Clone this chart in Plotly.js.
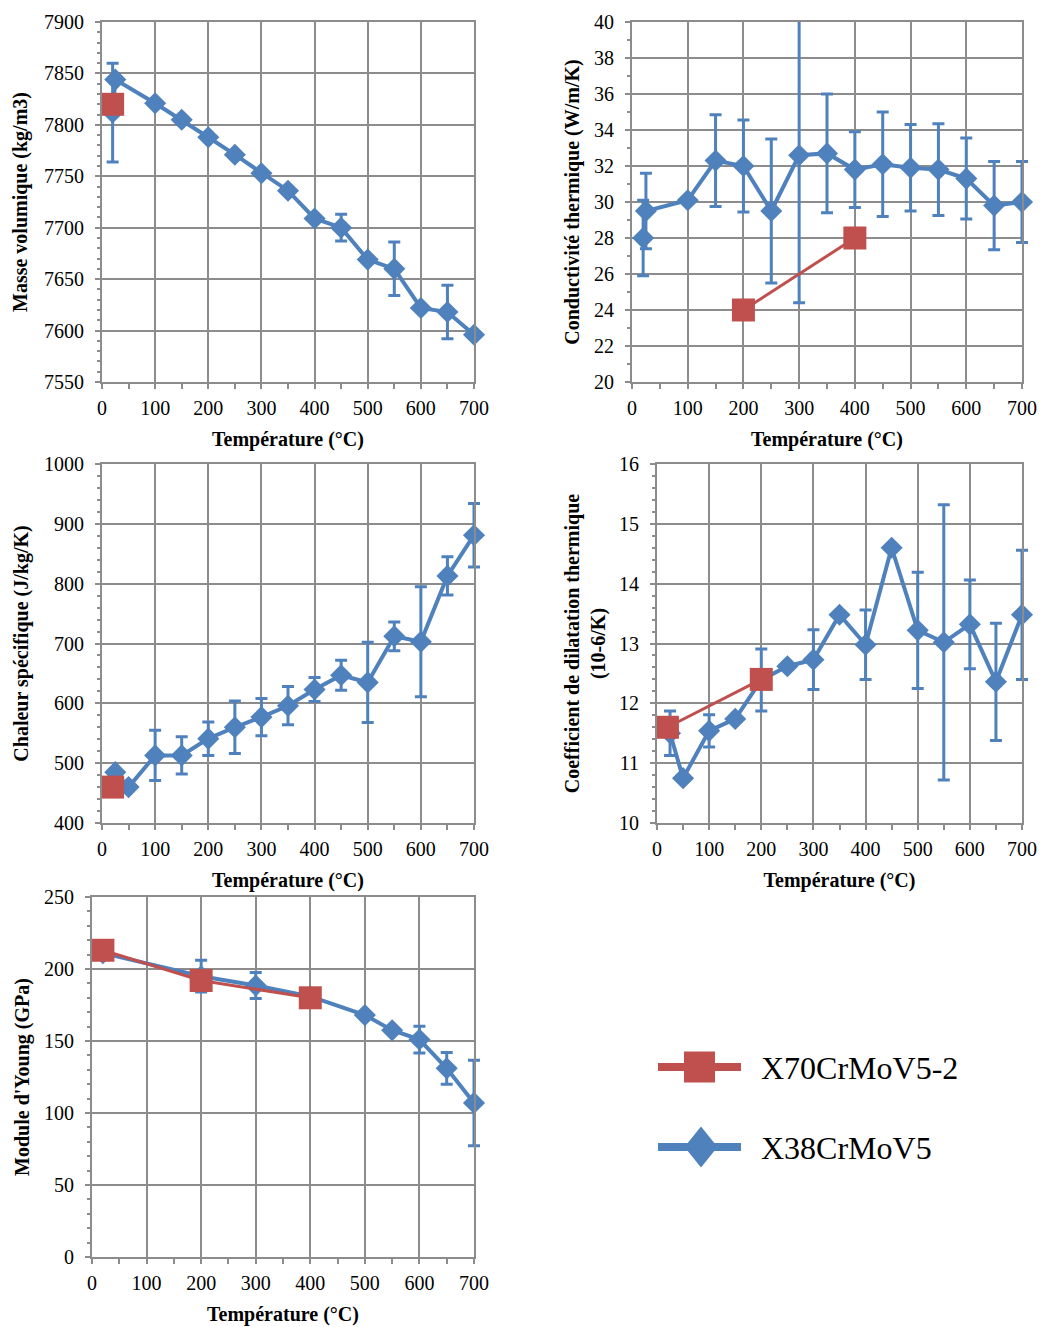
<!DOCTYPE html>
<html><head><meta charset="utf-8">
<script src="https://cdn.plot.ly/plotly-3.0.1.min.js"></script>
<style>html,body{margin:0;padding:0;background:#fff}</style>
</head><body><div id="chart" style="width:1047px;height:1327px"></div>
<script>
// ---------- data ----------
const seriesNames = ['X70CrMoV5-2', 'X38CrMoV5'];
const xTitle = 'Température (°C)';

// Panel 1 : Masse volumique (kg/m3)
const densX38T = [20, 25, 100, 150, 200, 250, 300, 350, 400, 450, 500, 550, 600, 650, 700];
const densX38V = [7812, 7844, 7821, 7805, 7788, 7771, 7753, 7736, 7709, 7700, 7669, 7660, 7622, 7618, 7596];
const densX38E = [48, 0, 0, 0, 0, 0, 0, 0, 0, 13, 0, 26, 0, 26, 0];
const densX70T = [20];
const densX70V = [7820];

// Panel 2 : Conductivité thermique (W/m/K)
const condX38T = [20, 25, 100, 150, 200, 250, 300, 350, 400, 450, 500, 550, 600, 650, 700];
const condX38V = [28.0, 29.5, 30.1, 32.3, 32.0, 29.5, 32.6, 32.7, 31.8, 32.1, 31.9, 31.8, 31.3, 29.8, 30.0];
const condX38E = [2.1, 2.1, 0, 2.55, 2.55, 4.0, 8.2, 3.3, 2.1, 2.9, 2.4, 2.55, 2.25, 2.45, 2.25];
const condX70T = [200, 400];
const condX70V = [24, 28];

// Panel 3 : Chaleur spécifique (J/kg/K)
const cpX38T = [25, 50, 100, 150, 200, 250, 300, 350, 400, 450, 500, 550, 600, 650, 700];
const cpX38V = [485, 460, 513, 513, 541, 560, 577, 596, 623, 647, 635, 712, 703, 813, 881];
const cpX38E = [0, 0, 42, 31, 28, 44, 31, 32, 20, 25, 67, 24, 92, 32, 53];
const cpX70T = [20];
const cpX70V = [460];

// Panel 4 : Coefficient de dilatation thermique (10-6/K)
const dilX38T = [25, 50, 100, 150, 200, 250, 300, 350, 400, 450, 500, 550, 600, 650, 700];
const dilX38V = [11.5, 10.75, 11.54, 11.74, 12.39, 12.62, 12.73, 13.48, 12.98, 14.6, 13.22, 13.02, 13.32, 12.36, 13.48];
const dilX38E = [0.37, 0, 0.27, 0, 0.52, 0, 0.5, 0, 0.58, 0, 0.97, 2.3, 0.74, 0.98, 1.08];
const dilX70T = [20, 200];
const dilX70V = [11.6, 12.4];

// Panel 5 : Module d'Young (GPa)
const youngX38T = [20, 200, 300, 400, 500, 550, 600, 650, 700];
const youngX38V = [211, 195, 188.5, 181, 168, 157.5, 151, 131, 107];
const youngX38E = [0, 11, 9, 0, 0, 0, 9.3, 11, 29.7];
const youngX70T = [20, 200, 400];
const youngX70V = [213, 192, 180];

const yTitles = ['Masse volumique (kg/m3)', 'Conductivité thermique (W/m/K)', 'Chaleur spécifique (J/kg/K)',
  'Coefficient de dilatation thermique<br>(10-6/K)', "Module d'Young (GPa)"];

// ---------- style ----------
const BLUE = '#4F81BD', RED = '#C0504D', GRID = '#8C8C8C';
const FONT = 'Liberation Serif';
const W = 1047, H = 1327;

// panel pixel boxes [left, right, top, bottom]
const boxes = [
  [102, 474, 22, 382],
  [632, 1022, 22, 382],
  [102, 474, 464, 823],
  [657, 1022, 464, 823],
  [92, 474, 897, 1257]
];
const yRanges = [[7550, 7900], [20, 40], [400, 1000], [10, 16], [0, 250]];
const yDticks = [50, 2, 100, 1, 50];
const yMinor = [10, 1, 20, 0.2, 10];
const yStandoffs = [11, 9, 10, 8, 9];

const panels = [
  [densX38T, densX38V, densX38E, densX70T, densX70V],
  [condX38T, condX38V, condX38E, condX70T, condX70V],
  [cpX38T, cpX38V, cpX38E, cpX70T, cpX70V],
  [dilX38T, dilX38V, dilX38E, dilX70T, dilX70V],
  [youngX38T, youngX38V, youngX38E, youngX70T, youngX70V]
];

const data = [];
const layout = {
  width: W, height: H,
  margin: {l: 0, r: 0, t: 0, b: 0},
  paper_bgcolor: '#fff', plot_bgcolor: '#fff',
  showlegend: false,
  font: {family: FONT, size: 20, color: '#000'},
  shapes: [], annotations: []
};

panels.forEach((p, i) => {
  const n = i === 0 ? '' : String(i + 1);
  const b = boxes[i];
  layout['xaxis' + n] = {
    anchor: 'y' + n,
    domain: [b[0] / W, b[1] / W],
    range: [0, 700], dtick: 100, tick0: 0,
    showgrid: true, gridcolor: GRID, gridwidth: 2,
    showline: true, linecolor: GRID, linewidth: 2, mirror: true,
    ticks: 'outside', ticklen: 5, tickcolor: GRID, tickwidth: 2,
    minor: {dtick: 50, ticks: 'outside', ticklen: 5, tickcolor: GRID, tickwidth: 2, showgrid: false},
    zeroline: false,
    tickfont: {family: FONT, size: 20, color: '#000'},
    ticklabelstandoff: 2,
    title: {text: xTitle, font: {family: FONT, size: 20, color: '#000', weight: 700}, standoff: 14},
    fixedrange: true
  };
  layout['yaxis' + n] = {
    anchor: 'x' + n,
    domain: [1 - b[3] / H, 1 - b[2] / H],
    range: yRanges[i], dtick: yDticks[i],
    showgrid: true, gridcolor: GRID, gridwidth: 2,
    showline: true, linecolor: GRID, linewidth: 2, mirror: true,
    ticks: 'outside', ticklen: 5, tickcolor: GRID, tickwidth: 2,
    minor: {dtick: yMinor[i], ticks: 'outside', ticklen: 3, tickcolor: GRID, tickwidth: 2, showgrid: false},
    zeroline: false,
    tickfont: {family: FONT, size: 20, color: '#000'},
    ticklabelstandoff: 7,
    title: {text: yTitles[i], font: {family: FONT, size: 20, color: '#000', weight: 700}, standoff: yStandoffs[i]},
    fixedrange: true
  };
  data.push({
    type: 'scatter', mode: 'lines+markers', name: seriesNames[1],
    x: p[0], y: p[1], xaxis: 'x' + n, yaxis: 'y' + n,
    line: {color: BLUE, width: 4},
    marker: {symbol: 'diamond', size: 17, color: BLUE},
    error_y: {type: 'data', array: p[2], visible: true, color: BLUE, thickness: 3, width: 6},
    cliponaxis: false
  });
  data.push({
    type: 'scatter', mode: 'lines+markers', name: seriesNames[0],
    x: p[3], y: p[4], xaxis: 'x' + n, yaxis: 'y' + n,
    line: {color: RED, width: 3},
    marker: {symbol: 'square', size: 23, color: RED},
    cliponaxis: false
  });
});

// ---------- legend (drawn as shapes + text) ----------
const legendColors = [RED, BLUE];
const legendRows = [1067, 1147];
const px = x => x / W, py = y => 1 - y / H;
legendRows.forEach((yy, k) => {
  layout.shapes.push({type: 'line', xref: 'paper', yref: 'paper',
    x0: px(658), x1: px(741), y0: py(yy), y1: py(yy), line: {color: legendColors[k], width: 8}});
  if (k === 0) {
    layout.shapes.push({type: 'rect', xref: 'paper', yref: 'paper',
      x0: px(684), x1: px(715), y0: py(yy - 15.5), y1: py(yy + 15.5),
      fillcolor: RED, line: {width: 0}});
  } else {
    const cx = 701, hw = 16.5, hh = 20.5;
    layout.shapes.push({type: 'path', xref: 'paper', yref: 'paper',
      path: `M ${px(cx - hw)},${py(yy)} L ${px(cx)},${py(yy - hh)} L ${px(cx + hw)},${py(yy)} L ${px(cx)},${py(yy + hh)} Z`,
      fillcolor: BLUE, line: {width: 0}});
  }
  layout.annotations.push({xref: 'paper', yref: 'paper', x: px(759), y: py(yy + 1), xanchor: 'left', yanchor: 'middle',
    text: seriesNames[k], showarrow: false, font: {family: FONT, size: 32, color: '#000'}});
});

// widen the clip of error bars horizontally so bars at x=700 are not cut in half
function widenErrorClips(gd) {
  const seen = {};
  gd.querySelectorAll('path.yerror').forEach(pth => {
    let el = pth;
    while (el && !(el.classList && el.classList.contains('trace'))) {
      const cp = el.getAttribute && el.getAttribute('clip-path');
      if (cp) {
        const m = cp.match(/#([^)'"]+)/);
        if (m) {
          const id = m[1], nid = id + '-wide';
          if (!seen[nid]) {
            const orig = document.getElementById(id);
            if (orig) {
              const c = orig.cloneNode(true);
              c.id = nid;
              const r = c.querySelector('rect');
              if (r) {
                r.setAttribute('x', (+r.getAttribute('x') || 0) - 20);
                r.setAttribute('width', (+r.getAttribute('width') || 0) + 40);
              }
              orig.parentNode.appendChild(c);
              seen[nid] = true;
            }
          }
          if (seen[nid]) el.setAttribute('clip-path', 'url(#' + nid + ')');
        }
      }
      el = el.parentNode;
    }
  });
}

Plotly.newPlot('chart', data, layout, {displayModeBar: false, staticPlot: true})
  .then(gd => widenErrorClips(gd));
</script>
</body></html>
